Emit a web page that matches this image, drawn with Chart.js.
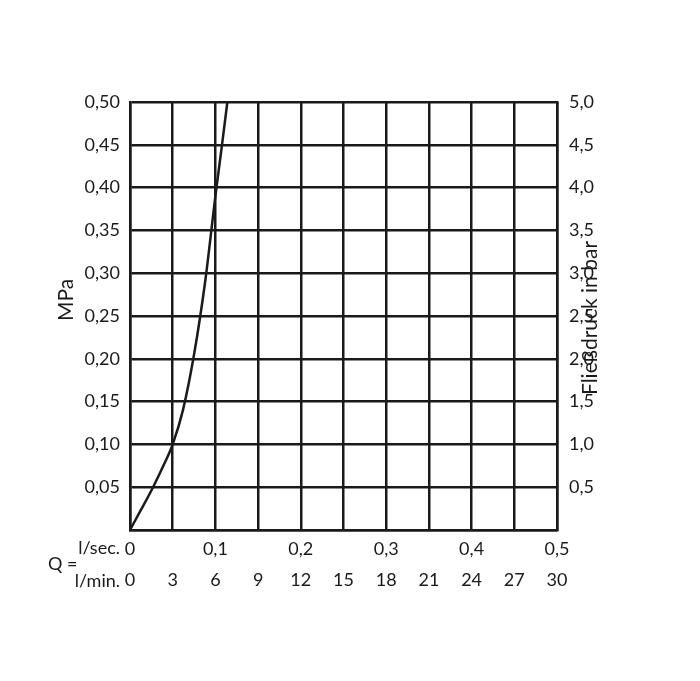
<!DOCTYPE html>
<html>
<head>
<meta charset="utf-8">
<script src="https://cdn.jsdelivr.net/npm/chart.js@4"></script>
<style>
  html, body { margin: 0; padding: 0; background: #fff; }
  #wrap { width: 700px; height: 681px; }
</style>
</head>
<body>
<div id="wrap"><canvas id="c" width="700" height="681"></canvas></div>
<script>
// flow in l/sec vs pressure in MPa
var flowSec = [0, 0.012, 0.027, 0.04, 0.05, 0.062, 0.075, 0.088, 0.1, 0.108, 0.114];
var pressureMPa = [0, 0.022, 0.05, 0.077, 0.10, 0.14, 0.205, 0.29, 0.39, 0.452, 0.5];
var minTicks = [0, 3, 6, 9, 12, 15, 18, 21, 24, 27, 30];

var FONT = { family: 'Lato, "Open Sans", sans-serif', size: 18 };
var INK = '#1a1a1a';

function comma(v, d) { return v.toFixed(d).replace('.', ','); }

var extraLabels = {
  id: 'extraLabels',
  afterDraw: function (chart) {
    var ctx = chart.ctx;
    ctx.save();
    ctx.fillStyle = INK;
    ctx.font = '18px ' + FONT.family;
    ctx.textBaseline = 'middle';
    ctx.textAlign = 'right';
    ctx.fillText('l/sec.', 120, 548);
    ctx.fillText('l/min.', 120, 581);
    ctx.textAlign = 'left';
    ctx.fillText('Q =', 48, 564);
    ctx.font = '21px ' + FONT.family;
    ctx.textAlign = 'center';
    ctx.save();
    ctx.translate(66, 300);
    ctx.rotate(-Math.PI / 2);
    ctx.fillText('MPa', 0, 0);
    ctx.restore();
    ctx.save();
    ctx.translate(590, 318);
    ctx.rotate(-Math.PI / 2);
    ctx.fillText('Fließdruck in bar', 0, 0);
    ctx.restore();
    ctx.restore();
  }
};

new Chart(document.getElementById('c').getContext('2d'), {
  type: 'line',
  data: {
    datasets: [{
      data: flowSec.map(function (x, i) { return { x: x, y: pressureMPa[i] }; }),
      borderColor: INK,
      borderWidth: 2.5,
      pointRadius: 0,
      cubicInterpolationMode: 'monotone',
      xAxisID: 'x',
      yAxisID: 'y'
    }]
  },
  options: {
    responsive: false,
    animation: false,
    layout: { padding: { top: 102, bottom: 88, left: 0, right: 0 } },
    plugins: { legend: { display: false }, tooltip: { enabled: false } },
    scales: {
      x: {
        type: 'linear', position: 'bottom', min: 0, max: 0.5,
        afterBuildTicks: function (s) { s.ticks = minTicks.map(function (m) { return { value: m / 60 }; }); },
        grid: { color: INK, lineWidth: 2.5, drawTicks: false },
        border: { color: INK, width: 2.5 },
        ticks: {
          color: INK, font: FONT, padding: 8, maxRotation: 0, autoSkip: false,
          callback: function (v) {
            var r = Math.round(v * 60);
            if (r % 6 !== 0) return '';
            return r === 0 ? '0' : comma(v, 1);
          }
        },
        afterFit: function (s) { s.height = 33; }
      },
      x2: {
        type: 'linear', position: 'bottom', min: 0, max: 30,
        afterBuildTicks: function (s) { s.ticks = minTicks.map(function (m) { return { value: m }; }); },
        grid: { display: false, drawTicks: false },
        border: { display: false },
        ticks: { color: INK, font: FONT, padding: 6, maxRotation: 0, autoSkip: false },
        afterFit: function (s) { s.height = 30; }
      },
      y: {
        type: 'linear', position: 'left', min: 0, max: 0.5,
        grid: { color: INK, lineWidth: 2.5, drawTicks: false },
        border: { color: INK, width: 2.5 },
        ticks: {
          stepSize: 0.05, color: INK, font: FONT, padding: 10,
          callback: function (v) { return v < 1e-9 ? '' : comma(v, 2); }
        },
        afterFit: function (s) { s.width = 130; }
      },
      y2: {
        type: 'linear', position: 'right', min: 0, max: 5,
        grid: { display: false, drawTicks: false },
        border: { color: INK, width: 2.5 },
        ticks: {
          stepSize: 0.5, color: INK, font: FONT, padding: 12,
          callback: function (v) { return v < 1e-9 ? '' : comma(v, 1); }
        },
        afterFit: function (s) { s.width = 143; }
      }
    }
  },
  plugins: [extraLabels]
});
</script>
</body>
</html>
